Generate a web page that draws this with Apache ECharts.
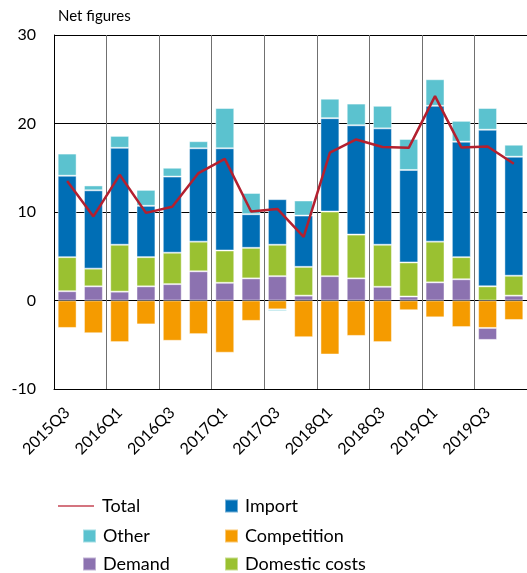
<!DOCTYPE html>
<html>
<head>
<meta charset="utf-8">
<script src="https://cdn.jsdelivr.net/npm/echarts@6/dist/echarts.min.js"></script>
<style>
  html, body { margin: 0; padding: 0; background: #fff; }
  #chart { width: 527px; height: 573px; }
</style>
</head>
<body>
<div id="chart"></div>
<script>
// quarters on the x axis
var quarters = ['2015Q3','2015Q4','2016Q1','2016Q2','2016Q3','2016Q4','2017Q1','2017Q2','2017Q3',
                '2017Q4','2018Q1','2018Q2','2018Q3','2018Q4','2019Q1','2019Q2','2019Q3','2019Q4'];

// components (net figures)
var demand        = [1.05, 1.6, 1.0, 1.6, 1.85, 3.3, 2.0, 2.5, 2.75, 0.55, 2.75, 2.5, 1.55, 0.45, 2.05, 2.4, -1.35, 0.55];
var domesticCosts = [3.85, 2.0, 5.3, 3.3, 3.55, 3.35, 3.65, 3.45, 3.55, 3.25, 7.3, 4.95, 4.75, 3.85, 4.6, 2.5, 1.6, 2.25];
var importVals    = [9.2, 8.85, 10.95, 5.8, 8.6, 10.55, 11.55, 3.8, 5.15, 5.8, 10.55, 12.35, 13.15, 10.45, 15.35, 13.05, 17.7, 13.45];
var other         = [2.5, 0.55, 1.35, 1.8, 1.0, 0.8, 4.55, 2.4, -0.2, 1.7, 2.2, 2.45, 2.55, 3.5, 3.0, 2.35, 2.45, 1.35];
var competition   = [-3.1, -3.7, -4.7, -2.7, -4.55, -3.8, -5.9, -2.3, -1.0, -4.15, -6.1, -4.0, -4.7, -1.1, -1.9, -3.0, -3.1, -2.2];
var total         = [13.5, 9.5, 14.2, 9.9, 10.6, 14.4, 16.0, 10.05, 10.35, 7.2, 16.7, 18.2, 17.35, 17.25, 23.1, 17.3, 17.4, 15.45];

var FONT = 'Lato';

function bar(name, data, color)
{
    return {
        name: name,
        type: 'bar',
        stack: 'all',
        data: data,
        barCategoryGap: '28%',
        itemStyle: { color: color, borderColor: 'rgba(255,255,255,0.45)', borderWidth: 1 }
    };
}

//one legend per entry, placed by hand
function legendItem(name, left, top, wide)
{
    var lg = {
        data: [name],
        left: left, top: top,
        icon: 'rect',
        itemWidth: wide ? 36 : 13,
        itemHeight: wide ? 2 : 13,
        textStyle: { fontFamily: FONT, fontSize: 18, color: '#000', lineHeight: 20,
                     padding: [0, 0, 0, wide ? 3 : 2] }
    };
    if (wide) {
        lg.itemStyle = { color: '#d4747f' };
    }
    return lg;
}

var myChart = echarts.init(document.getElementById('chart'));

myChart.setOption({
    animation: false,
    textStyle: { fontFamily: FONT, color: '#000' },
    title: {
        text: 'Net figures',
        left: 53,
        top: 4,
        textStyle: { fontFamily: FONT, fontSize: 15, fontWeight: 'normal', color: '#000' }
    },
    grid: { left: 54, right: -3, top: 35, bottom: 184 },
    legend: [
        legendItem('Total', 53, 491, true),
        legendItem('Other', 77, 521),
        legendItem('Demand', 77, 549),
        legendItem('Import', 219, 491),
        legendItem('Competition', 219, 521),
        legendItem('Domestic costs', 219, 549)
    ],
    xAxis: {
        type: 'category',
        data: quarters,
        axisLine: { onZero: false, lineStyle: { color: '#000', width: 1 } },
        axisTick: { show: false },
        axisLabel: { interval: 1, rotate: 45, margin: 21, fontSize: 16, color: '#000', fontFamily: FONT },
        splitLine: { show: true, interval: 1, lineStyle: { color: '#707070', width: 1 } }
    },
    yAxis: {
        type: 'value',
        min: -10, max: 30, interval: 10,
        axisLine: { show: true, lineStyle: { color: '#000', width: 1 } },
        axisTick: { show: false },
        axisLabel: { margin: 18, fontSize: 16, color: '#000', fontFamily: FONT },
        splitLine: { lineStyle: { color: '#000', width: 1 } }
    },
    series: [
        bar('Competition', competition, '#f59b00'),
        bar('Demand', demand, '#8c72b0'),
        bar('Domestic costs', domesticCosts, '#9ac131'),
        bar('Import', importVals, '#006eb5'),
        bar('Other', other, '#5bc2cf'),
        {
            name: 'Total',
            type: 'line',
            data: total,
            symbol: 'none',
            z: 5,
            lineStyle: { color: '#b3202f', width: 2.5 },
            itemStyle: { color: '#b3202f' }
        }
    ]
});
</script>
</body>
</html>
